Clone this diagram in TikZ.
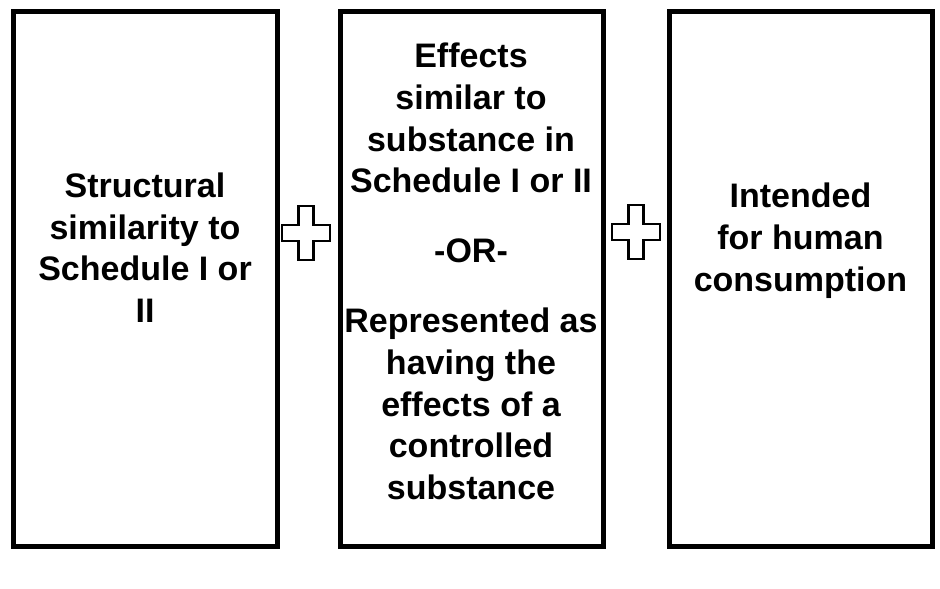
\documentclass[tikz,border=0pt]{standalone}
\usepackage{fontspec}
\setmainfont{Liberation Sans}
\begin{document}
\begin{tikzpicture}[x=0.75pt,y=-0.75pt,
  box/.style={draw=black,line width=3.75pt,line join=miter},
  txt/.style={font=\fontsize{25.5}{31.3}\selectfont\bfseries,align=center,inner sep=0pt,anchor=north},
  plusmark/.pic={\draw[line width=1.8pt,line join=miter,fill=white]
     (-7.5,-27) -- (7.5,-27) -- (7.5,-8) -- (24,-8) -- (24,8) -- (7.5,8) -- (7.5,27)
     -- (-7.5,27) -- (-7.5,8) -- (-24,8) -- (-24,-8) -- (-7.5,-8) -- cycle;}]
\useasboundingbox (0,0) rectangle (940,589);
\draw[box] (13,11.5) rectangle (277,546.5);
\draw[box] (340,11.5) rectangle (603,546.5);
\draw[box] (669,11.5) rectangle (932.5,546.5);
\node[txt] (t1) at (145,172.4) {Structural\\similarity to\\Schedule I or\\II};
\node[txt] (t2a) at (471,42.7) {Effects\\similar to\\substance in\\Schedule I or II};
\node[txt] (t2or) at (471,238.7) {-OR-};
\node[txt] (t2b) at (471,307.7) {Represented as\\having the\\effects of a\\controlled\\substance};
\node[txt] (t3) at (800.5,182.7) {Intended\\for human\\consumption};
\pic (p1) at (306,233) {plusmark};
\pic (p2) at (636,232) {plusmark};
\end{tikzpicture}
\end{document}
